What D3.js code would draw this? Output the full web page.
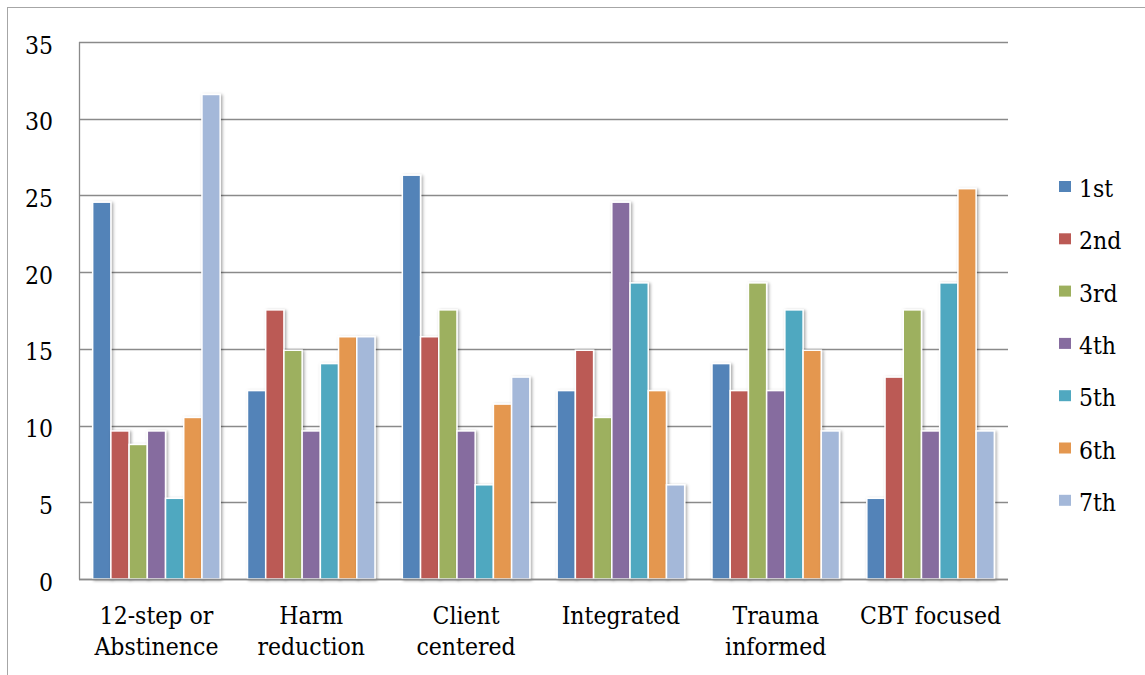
<!DOCTYPE html>
<html>
<head>
<meta charset="utf-8">
<script src="https://cdnjs.cloudflare.com/ajax/libs/d3/7.8.5/d3.min.js"></script>
<style>
  html, body { margin: 0; padding: 0; background: #fff; }
  svg { display: block; }
  text { font-family: "DejaVu Serif", "Liberation Serif", serif; font-stretch: condensed; fill: #000; }
</style>
</head>
<body>
<svg id="chart" width="1145" height="675"></svg>
<script>
const categories = ["12-step or\nAbstinence", "Harm\nreduction", "Client\ncentered", "Integrated", "Trauma\ninformed", "CBT focused"];
const seriesNames = ["1st", "2nd", "3rd", "4th", "5th", "6th", "7th"];
const s1st = [24.56, 12.28, 26.32, 12.28, 14.04, 5.26];
const s2nd = [9.65, 17.54, 15.79, 14.91, 12.28, 13.16];
const s3rd = [8.77, 14.91, 17.54, 10.53, 19.30, 17.54];
const s4th = [9.65, 9.65, 9.65, 24.56, 12.28, 9.65];
const s5th = [5.26, 14.04, 6.14, 19.30, 17.54, 19.30];
const s6th = [10.53, 15.79, 11.40, 12.28, 14.91, 25.44];
const s7th = [31.58, 15.79, 13.16, 6.14, 9.65, 9.65];
const yTicks = [0, 5, 10, 15, 20, 25, 30, 35];
const colors = ["#5283b8", "#bb5a55", "#9db05e", "#866c9f", "#50a8c0", "#e4974f", "#a4b8d9"];

const seriesValues = [s1st, s2nd, s3rd, s4th, s5th, s6th, s7th];
const fontSize = 24.5;

const svg = d3.select("#chart");
const defs = svg.append("defs");
const f = defs.append("filter").attr("id", "shadow").attr("x", "-30%").attr("y", "-10%").attr("width", "160%").attr("height", "120%");
f.append("feDropShadow").attr("dx", 1.5).attr("dy", 1).attr("stdDeviation", 1.8).attr("flood-color", "#000").attr("flood-opacity", 0.35);

// outer chart border
svg.append("rect").attr("x", 7.5).attr("y", 7.5).attr("width", 1300).attr("height", 900)
  .attr("fill", "none").attr("stroke", "#a6a6a6").attr("stroke-width", 1);

const pLeft = 79, pRight = 1008, pTop = 42, pBottom = 579;
const gap = 1.5 / 8.5;
const x0 = d3.scaleBand().domain(categories).range([pLeft, pRight]).paddingInner(gap).paddingOuter(gap / 2);
const x1 = d3.scaleBand().domain(seriesNames).range([0, x0.bandwidth()]);
const y = d3.scaleLinear().domain([0, 35]).range([pBottom, pTop]);

// gridlines
svg.append("g").selectAll("line").data(yTicks).join("line")
  .attr("x1", pLeft).attr("x2", pRight)
  .attr("y1", d => Math.round(y(d)) + 0.5).attr("y2", d => Math.round(y(d)) + 0.5)
  .attr("stroke", "#8a8a8a").attr("stroke-width", 1.3);

// y axis line
svg.append("line").attr("x1", pLeft + 0.5).attr("x2", pLeft + 0.5).attr("y1", pTop).attr("y2", pBottom + 0.5)
  .attr("stroke", "#8a8a8a").attr("stroke-width", 1.3);

// y tick labels
svg.append("g").selectAll("text").data(yTicks).join("text")
  .attr("x", 53).attr("y", d => y(d) + 11.5)
  .attr("text-anchor", "end").attr("font-size", fontSize)
  .text(d => d);

// bars
const groups = svg.append("g").selectAll("g").data(categories).join("g")
  .attr("transform", d => `translate(${x0(d)},0)`);
groups.selectAll("rect").data((c, ci) => seriesNames.map((s, si) => ({ s, si, v: seriesValues[si][ci] })))
  .join("rect")
  .attr("x", d => x1(d.s))
  .attr("y", d => y(d.v))
  .attr("width", x1.bandwidth())
  .attr("height", d => pBottom - y(d.v))
  .attr("fill", d => colors[d.si])
  .attr("stroke", "#fff").attr("stroke-width", 1.5)
  .attr("filter", "url(#shadow)");

// x axis line
svg.append("line").attr("x1", pLeft).attr("x2", pRight).attr("y1", pBottom + 0.5).attr("y2", pBottom + 0.5)
  .attr("stroke", "#8a8a8a").attr("stroke-width", 1.3);

// category labels
const cl = svg.append("g").selectAll("text").data(categories).join("text")
  .attr("text-anchor", "middle").attr("font-size", fontSize)
  .attr("x", d => x0(d) + x0.bandwidth() / 2)
  .attr("y", 624);
cl.selectAll("tspan").data(d => d.split("\n")).join("tspan")
  .attr("x", function () { return d3.select(this.parentNode).attr("x"); })
  .attr("dy", (d, i) => i === 0 ? 0 : 31)
  .text(d => d);

// legend
const lg = svg.append("g").selectAll("g").data(seriesNames).join("g")
  .attr("transform", (d, i) => `translate(1059, ${181 + i * 52.3})`);
lg.append("rect").attr("width", 12).attr("height", 11)
  .attr("fill", (d, i) => colors[i]);
lg.append("text").attr("x", 20).attr("y", 16).attr("font-size", fontSize).text(d => d);
</script>
</body>
</html>
